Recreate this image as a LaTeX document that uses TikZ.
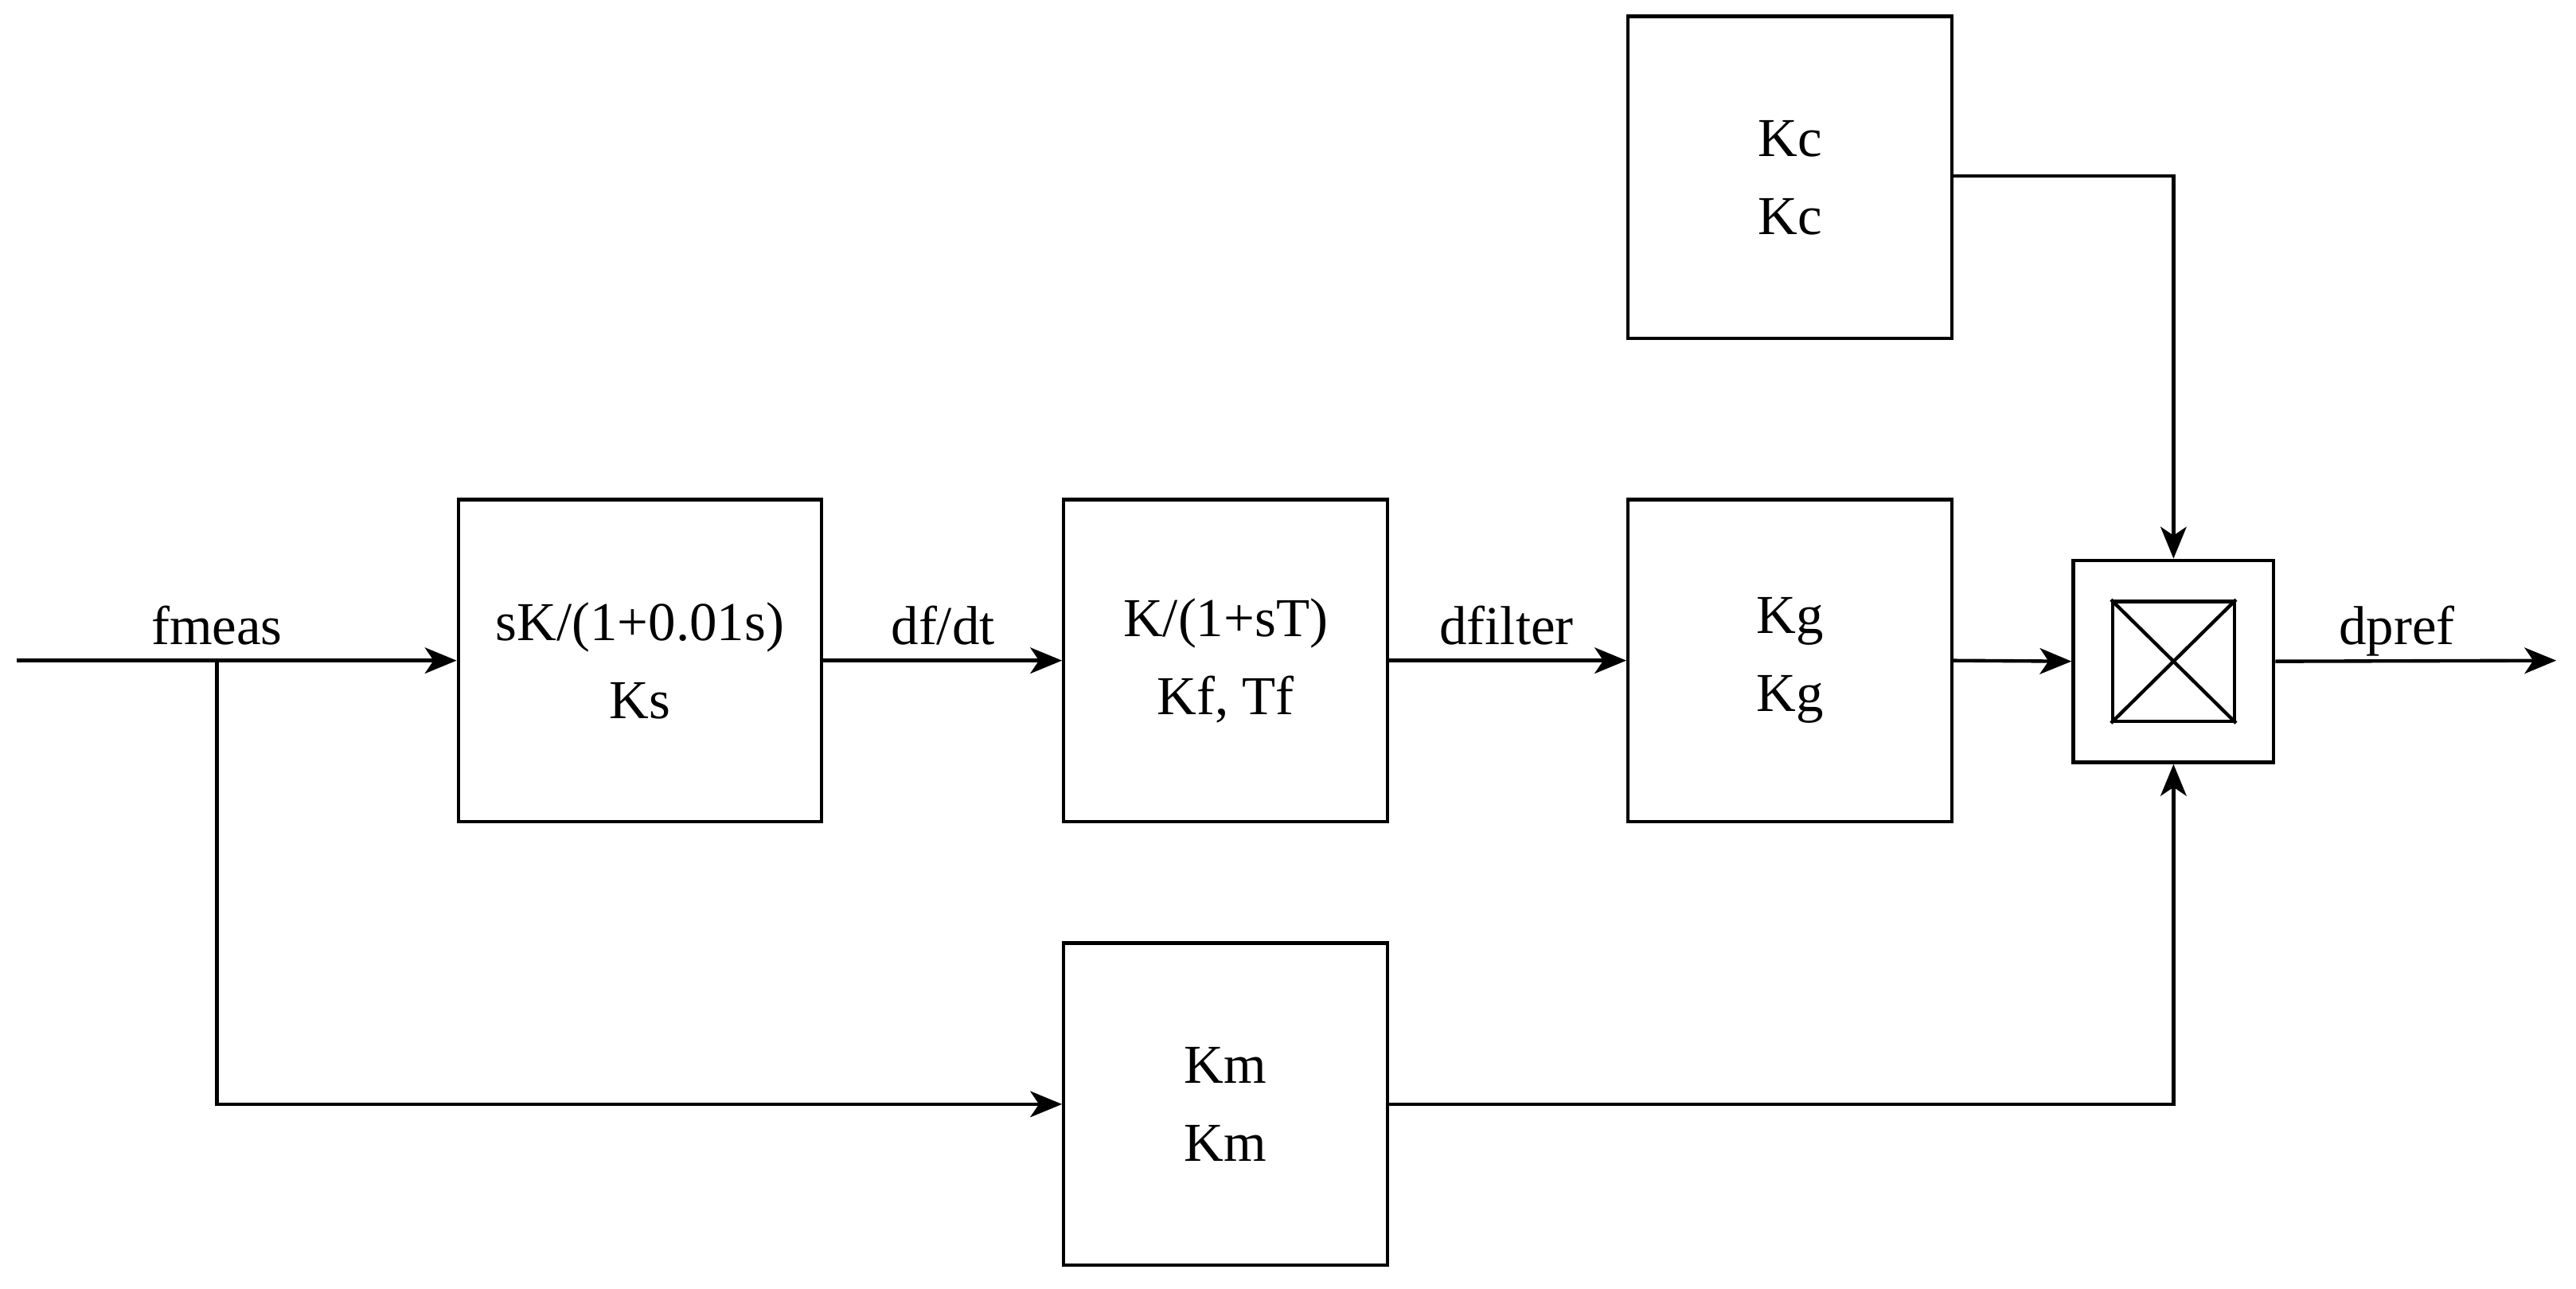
\documentclass[tikz,border=0pt]{standalone}
\usepackage{fontspec}
\setmainfont{Liberation Serif}
\usetikzlibrary{arrows.meta}
\begin{document}
\begin{tikzpicture}[x=0.02cm,y=-0.02cm,
  blk/.style={draw,line width=1.2pt,minimum width=197*0.02cm,minimum height=196*0.02cm,inner sep=0pt,align=center,font=\fontsize{19}{23}\selectfont},
  ln/.style={line width=1.2pt},
  arr/.style={ln,-{Stealth[length=11pt,width=9pt,inset=3pt]}},
  lbl/.style={font=\fontsize{19}{23}\selectfont,anchor=base}]
\useasboundingbox (0,0) rectangle (1568,784);
\node[blk] (kc) at (1089.5,108) {Kc\\[4pt]Kc};
\node[blk,minimum width=221*0.02cm] (sk) at (389.5,402) {sK/(1+0.01s)\\[4pt]Ks};
\node[blk] (kf) at (746,402) {K/(1+sT)\\[4pt]Kf, Tf};
\node[blk] (kg) at (1089.5,402) {Kg\\[4pt]Kg};
\node[blk] (km) at (746,672) {Km\\[4pt]Km};
\node[draw,line width=1.2pt,minimum width=122*0.02cm,minimum height=123*0.02cm,inner sep=0pt] (mul) at (1323,402.5) {};
\node[draw,line width=1.2pt,minimum width=74*0.02cm,minimum height=73*0.02cm,inner sep=0pt] (in) at (1323,402.5) {};
\draw[ln] (in.north west) -- (in.south east) (in.south west) -- (in.north east);
\coordinate (start) at (10,402);
\coordinate (br) at (132,402);
\coordinate (out) at (1556,402);
\draw[arr] (start) -- (sk.west);
\draw[arr] (br) |- (km.west);
\draw[arr] (sk.east) -- (kf.west);
\draw[arr] (kf.east) -- (kg.west);
\draw[arr] (kg.east) -- (mul.west);
\draw[arr] (kc.east |- 0,107) -| (mul.north);
\draw[arr] (km.east) -| (mul.south);
\draw[arr] (mul.east) -- (out);
\node[lbl] (l1) at (132,392) {fmeas};
\node[lbl] (l2) at (574,392) {df/dt};
\node[lbl] (l3) at (917,392) {dfilter};
\node[lbl] (l4) at (1459,392) {dpref};
\end{tikzpicture}
\end{document}
